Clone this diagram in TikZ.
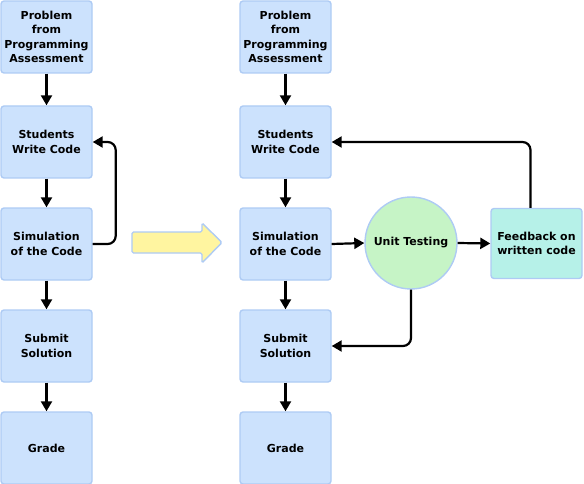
\documentclass[tikz,border=0pt]{standalone}
\usepackage{fontspec}
\setmainfont{DejaVu Sans}
\usetikzlibrary{arrows.meta,positioning,calc}
\definecolor{boxfill}{HTML}{CCE2FD}
\definecolor{boxline}{HTML}{AECBF4}
\definecolor{testfill}{HTML}{C6F4C6}
\definecolor{fbfill}{HTML}{B6F1E8}
\definecolor{shiftfill}{HTML}{FFF5A0}
\tikzset{
  flowbox/.style={draw=boxline, line width=1.4pt, fill=boxfill, rounded corners=3pt,
                  minimum width=91pt, minimum height=72pt, inner sep=2pt, align=center,
                  font=\fontsize{11}{14.6}\selectfont\bfseries},
  testcircle/.style={circle, draw=boxline, line width=1.4pt, fill=testfill,
                     minimum size=92pt, inner sep=1pt, align=center,
                     font=\fontsize{11}{14.6}\selectfont\bfseries},
  fbbox/.style={flowbox, fill=fbfill, minimum height=70pt},
  arr/.style={-{Triangle[length=10pt, width=11pt]}, line width=2.2pt, color=black},
  loop/.style={arr, rounded corners=8pt}}

\begin{document}
\begin{tikzpicture}[x=1pt, y=-1pt]
        \useasboundingbox (0,0) rectangle (584,484);
        % before: the plain workflow
        \node[flowbox] (prob1) at (46.5,37) {Problem\\from\\Programming\\Assessment};
        \node[flowbox] (write1) at (46.5,142) {Students\\Write Code};
        \node[flowbox] (sim1) at (46.5,244) {Simulation\\of the Code};
        \node[flowbox] (sub1) at (46.5,346) {Submit\\Solution};
        \node[flowbox] (grade1) at (46.5,448) {Grade};
        \draw[arr] (prob1.south) -- (write1.north);
        \draw[arr] (write1.south) -- (sim1.north);
        \draw[arr] (sim1.south) -- (sub1.north);
        \draw[arr] (sub1.south) -- (grade1.north);
        \draw[loop] (sim1.east) -- ++(23,0) |- (write1.east);
        % the shift
        \draw[draw=boxline, line width=1.4pt, fill=shiftfill, rounded corners=1.5pt]
          (132,232) -- (202,232) -- (202,223) -- (222,242.5) -- (202,263)
          -- (202,253) -- (132,253) -- cycle;
        % after: with unit testing
        \node[flowbox] (prob2) at (285.5,37) {Problem\\from\\Programming\\Assessment};
        \node[flowbox] (write2) at (285.5,142) {Students\\Write Code};
        \node[flowbox] (sim2) at (285.5,244) {Simulation\\of the Code};
        \node[flowbox] (sub2) at (285.5,346) {Submit\\Solution};
        \node[flowbox] (grade2) at (285.5,448) {Grade};
        \node[testcircle] (unit) at (411,243) {Unit Testing};
        \node[fbbox] (feed) at (536.5,243.5) {Feedback on\\written code};
        \draw[arr] (prob2.south) -- (write2.north);
        \draw[arr] (write2.south) -- (sim2.north);
        \draw[arr] (sim2.south) -- (sub2.north);
        \draw[arr] (sub2.south) -- (grade2.north);
        \draw[arr] (sim2.east) -- (unit.west);
        \draw[arr] (unit.east) -- (feed.west);
        \draw[loop] ($(feed.north)+(-6,0)$) |- (write2.east);
        \draw[loop] (unit.south) |- (sub2.east);
      \end{tikzpicture}
\end{document}
